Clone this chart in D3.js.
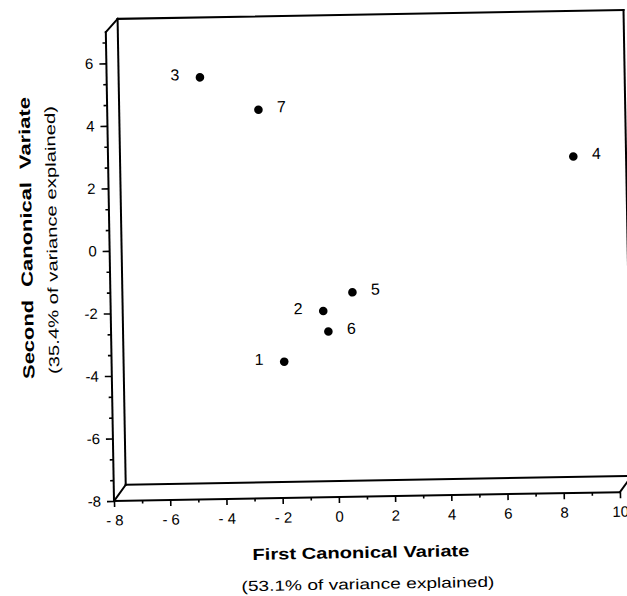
<!DOCTYPE html>
<html lang="en">
<head>
<meta charset="utf-8" />
<title>Canonical Variates</title>
<script src="https://d3js.org/d3.v7.min.js"></script>
<style>
  body { margin: 0; background: #fff; }
  svg { display: block; font-family: "Liberation Sans", Arial, Helvetica, sans-serif; }
  .axis text { font-size: 15px; fill: #000; }
  .axis line { stroke: #000; stroke-width: 1.6px; }
  .box line { stroke: #000; stroke-width: 2px; stroke-linecap: square; }
  .labels text { font-size: 16px; fill: #000; }
</style>
</head>
<body>
<svg width="627" height="596"></svg>
<script>
// group scores on the first two canonical variates
var groups = ["1", "2", "3", "4", "5", "6", "7"];
var firstVariate  = [-1.86, -0.44, -4.68, 8.55, 0.61, -0.27, -2.62];
var secondVariate = [-3.64, -2.04, 5.50, 2.76, -1.46, -2.70, 4.43];

// axis ticks and their labels
var xTicks  = [-8, -6, -4, -2, 0, 2, 4, 6, 8, 10];
var xLabels = ["- 8", "- 6", "- 4", "- 2", "0", "2", "4", "6", "8", "10"];
var yTicks  = [-8, -6, -4, -2, 0, 2, 4, 6];
var yLabels = ["-8", "-6", "-4", "-2", "0", "2", "4", "6"];

var xTitle = "First Canonical Variate";
var xNote  = "(53.1% of variance explained)";
var yTitle = "Second Canonical Variate";
var yNote  = "(35.4% of variance explained)";

var svg = d3.select("svg");

// (not "top" - that one is taken by window.top)
var plotLeft = 114, plotRight = 620, plotTop = 32, plotBottom = 501;
var depthX = 12, depthTop = 13, depthBottom = 16;   // the "3d" box offset
var tilt = -1;                                         // the scan sits a bit crooked

var x = d3.scaleLinear().domain([-8, 10]).range([plotLeft, plotRight]);
var y = d3.scaleLinear().domain([-8, 7]).range([plotBottom, plotTop]);

var g = svg.append("g")
    .attr("transform", "rotate(" + tilt + "," + plotLeft + "," + plotBottom + ")");

// box: back face, the corner diagonals, then the front axes
var bx0 = x(-8) + depthX, bx1 = x(10) + depthX,
    by0 = y(7) - depthTop, by1 = y(-8) - depthBottom;

var boxLines = [
    [bx0, by0, bx1, by0],
    [bx0, by0, bx0, by1],
    [bx0, by1, bx1, by1],
    [bx1, by0, bx1, by1],
    [x(-8), y(7), bx0, by0],
    [x(-8), y(-8), bx0, by1],
    [x(10), y(-8), bx1, by1],
    [x(-8), y(-8), x(-8), y(7)],
    [x(-8), y(-8), x(10), y(-8)]
];

g.append("g")
    .attr("class", "box")
    .selectAll("line")
    .data(boxLines)
    .enter().append("line")
        .attr("x1", function (d) { return d[0]; })
        .attr("y1", function (d) { return d[1]; })
        .attr("x2", function (d) { return d[2]; })
        .attr("y2", function (d) { return d[3]; });

// major and minor ticks
var xMinor = d3.range(-7, 10, 2);
var yMinor = d3.range(0, 23).filter(function (k) { return k % 3; })
    .map(function (k) { return -8 + k * 2 / 3; });

g.append("g")
    .attr("class", "axis")
    .attr("transform", "translate(0," + plotBottom + ")")
    .call(d3.axisBottom(x).tickValues(xTicks)
        .tickFormat(function (d, i) { return xLabels[i]; })
        .tickSize(6).tickPadding(8));

g.append("g")
    .attr("class", "axis")
    .attr("transform", "translate(0," + plotBottom + ")")
    .call(d3.axisBottom(x).tickValues(xMinor).tickFormat("").tickSize(3));

g.append("g")
    .attr("class", "axis")
    .attr("transform", "translate(" + plotLeft + ",0)")
    .call(d3.axisLeft(y).tickValues(yTicks)
        .tickFormat(function (d, i) { return yLabels[i]; })
        .tickSize(7).tickPadding(6));

g.append("g")
    .attr("class", "axis")
    .attr("transform", "translate(" + plotLeft + ",0)")
    .call(d3.axisLeft(y).tickValues(yMinor).tickFormat("").tickSize(3.5));

g.selectAll(".axis .domain").remove();

// points
var pts = groups.map(function (name, i) {
    return { name: name, x: firstVariate[i], y: secondVariate[i] };
});

g.append("g")
    .selectAll("circle")
    .data(pts)
    .enter().append("circle")
        .attr("cx", function (d) { return x(d.x); })
        .attr("cy", function (d) { return y(d.y); })
        .attr("r", 4.3)
        .attr("fill", "#000");

// labels sit left of 1, 2, 3 and right of the others
var onLeft = { "1": true, "2": true, "3": true };

g.append("g")
    .attr("class", "labels")
    .selectAll("text")
    .data(pts)
    .enter().append("text")
        .attr("x", function (d) { return x(d.x) + (onLeft[d.name] ? -25 : 23); })
        .attr("y", function (d) { return y(d.y) - 3; })
        .attr("dy", "0.36em")
        .attr("text-anchor", "middle")
        .text(function (d) { return d.name; });

// axis titles
function title(txt, px, py, angle, size, weight, len, gap) {
    svg.append("text")
        .attr("transform", "translate(" + px + "," + py + ") rotate(" + angle + ")")
        .attr("text-anchor", "middle")
        .attr("font-size", size)
        .attr("font-weight", weight)
        .attr("word-spacing", gap)
        .attr("textLength", len)
        .attr("lengthAdjust", "spacingAndGlyphs")
        .text(txt);
}

title(xTitle, 361, 558, tilt, 16, "bold", 217, 0);
title(xNote, 368, 589, tilt, 14.5, "normal", 253, 0);
title(yTitle, 32, 238, -90 + tilt, 16, "bold", 282, 5);
title(yNote, 57, 240, -90 + tilt, 14.5, "normal", 268, 0);
</script>
</body>
</html>
